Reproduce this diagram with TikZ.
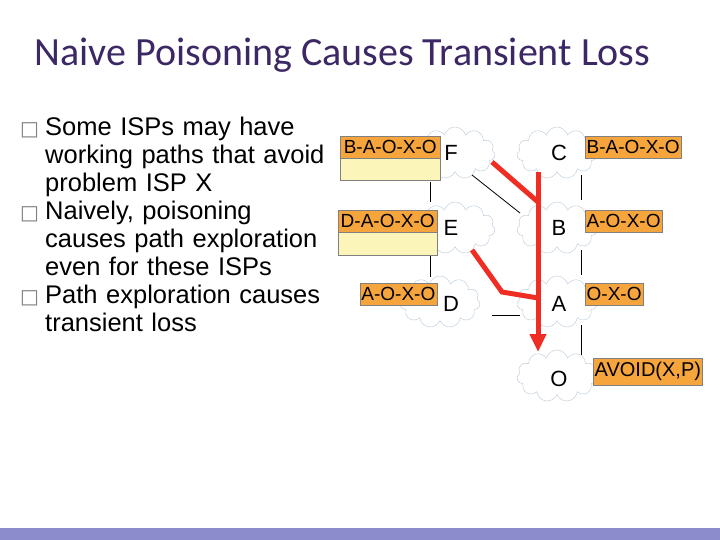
\documentclass[tikz,border=0pt]{standalone}
\usepackage{fontspec}
\setmainfont{Liberation Sans}
\newfontfamily\titlefont{Carlito}
\newfontfamily\symfont{DejaVu Sans}
\usetikzlibrary{shapes.symbols,arrows.meta}
\definecolor{titlepurple}{RGB}{60,40,100}
\definecolor{barpurple}{RGB}{140,140,205}
\definecolor{pathorange}{RGB}{245,165,60}
\definecolor{pathyellow}{RGB}{252,245,185}
\definecolor{cloudline}{RGB}{185,200,215}
\definecolor{poisonred}{RGB}{240,45,35}
\tikzset{
  isp/.style={cloud, cloud puffs=11, draw=cloudline, fill=white, minimum width=80pt, minimum height=52pt, inner sep=0pt},
  isplabel/.style={font=\fontsize{22}{22}\selectfont},
  route/.style={fill=pathorange, draw=gray, inner sep=1.5pt, font=\fontsize{19}{19}\selectfont, minimum height=22pt},
  link/.style={draw=black, line width=1pt},
  poison/.style={draw=poisonred, line width=5pt},
  bullettext/.style={anchor=north west, align=left, text width=330pt, font=\fontsize{25.5}{28}\selectfont}
}
\begin{document}
\begin{tikzpicture}[x=1pt,y=-1pt]
\useasboundingbox (0,0) rectangle (720,540);
\fill[barpurple] (0,528) rectangle (720,540);
% Title
\node[font=\titlefont\fontsize{40}{40}\selectfont, text=titlepurple, anchor=base west] (title) at (31,66) {Naive Poisoning Causes Transient Loss};
% Bullets
\node[bullettext, inner sep=0pt] (bullets) at (20,117) {%
\makebox[25pt][l]{\symfont\fontsize{20}{20}\selectfont\color{gray}□}Some ISPs may have\\
\hspace*{25pt}working paths that avoid\\
\hspace*{25pt}problem ISP X\\
\makebox[25pt][l]{\symfont\fontsize{20}{20}\selectfont\color{gray}□}Naively, poisoning\\
\hspace*{25pt}causes path exploration\\
\hspace*{25pt}even for these ISPs\\
\makebox[25pt][l]{\symfont\fontsize{20}{20}\selectfont\color{gray}□}Path exploration causes\\
\hspace*{25pt}transient loss};
% Links
\draw[link] (430,182) -- (430,202);
\draw[link] (430,255) -- (430,277);
\draw[link] (581,175) -- (581,200);
\draw[link] (581,250) -- (581,275);
\draw[link] (581,325) -- (581,355);
% ISP clouds
\node[isp] (F) at (455,153) {};
\node[isp] (C) at (557,153) {};
\node[isp] (E) at (455,228) {};
\node[isp] (B) at (557,228) {};
\node[isp] (D) at (440,302) {};
\node[isp] (A) at (557,302) {};
\node[isp] (O) at (557,376) {};
\node[isplabel] at (451,153) {F};
\node[isplabel] at (559,153) {C};
\node[isplabel] at (451,228) {E};
\node[isplabel] at (559,228) {B};
\node[isplabel] at (451,304) {D};
\node[isplabel] at (559,304) {A};
\node[isplabel] at (559,379) {O};
\draw[link, line width=0.8pt] (472,175) -- (520,213);
\draw[link] (492,315) -- (520,315);
% Routes
\fill[pathyellow, draw=gray] (340,136) rectangle (440,180);
\node[route, anchor=north west, minimum width=100pt] (rF) at (340,136) {B-A-O-X-O};
\fill[pathyellow, draw=gray] (338,210) rectangle (437,255);
\node[route, anchor=north west, minimum width=99pt] (rE) at (338,210) {D-A-O-X-O};
\node[route, anchor=north east] (rD) at (437,283) {A-O-X-O};
\node[route, anchor=north west] (rC) at (585,136) {B-A-O-X-O};
\node[route, anchor=north west] (rB) at (585,210) {A-O-X-O};
\node[route, anchor=north west] (rA) at (585,283) {O-X-O};
\node[route, anchor=north west, minimum height=27pt, font=\fontsize{20}{20}\selectfont] (rO) at (593,358) {AVOID(X,P)};
% Poisoned path exploration
\draw[poison] (492,162) -- (538,202);
\draw[poison] (472,250) -- (502,292) -- (538,298);
\draw[poison, -{Triangle[length=18pt,width=16pt]}] (538,172) -- (538,352);
\end{tikzpicture}
\end{document}
